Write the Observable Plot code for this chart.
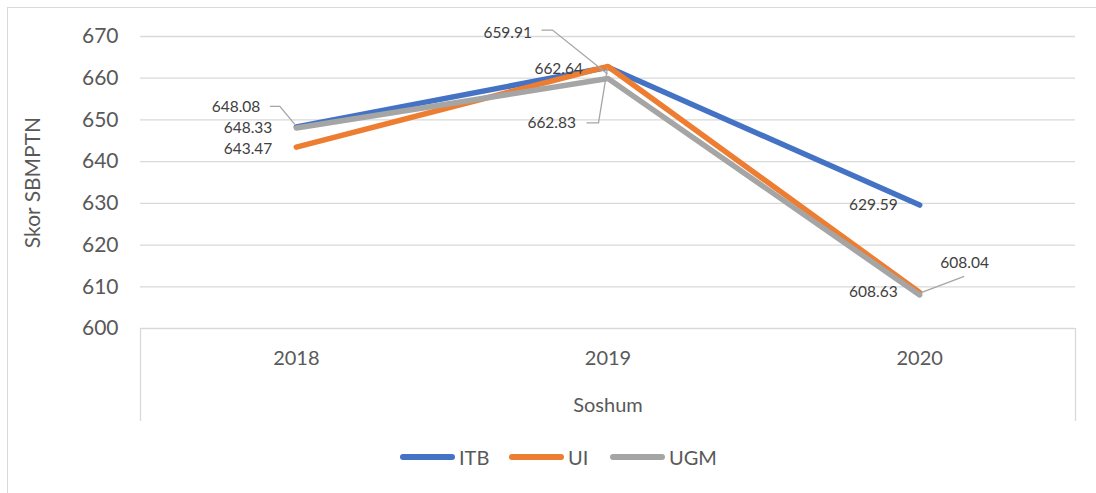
<!DOCTYPE html>
<html>
<head>
<meta charset="utf-8">
<script src="https://cdn.jsdelivr.net/npm/d3@7"></script>
<script src="https://cdn.jsdelivr.net/npm/@observablehq/plot@0.6"></script>
<style>
  html, body { margin: 0; padding: 0; background: #fff; }
  #wrap { position: relative; width: 1096px; height: 493px; overflow: hidden; font-family: Lato, "Open Sans", sans-serif; }
  #border { position: absolute; left: 7px; top: 7px; width: 1100px; height: 500px; border: 1px solid #d9d9d9; box-sizing: border-box; }
  #chart { position: absolute; left: 0; top: 0; }
  #legend { position: absolute; top: 445px; left: 0; width: 1096px; height: 24px; }
  .item { position: absolute; top: 0; height: 24px; display: flex; align-items: center; font-size: 20px; color: #595959; }
  .sw { width: 55px; height: 6px; border-radius: 3px; margin-right: 4px; }
</style>
</head>
<body>
<div id="wrap">
  <div id="border"></div>
  <div id="chart"></div>
  <div id="legend"></div>
</div>
<script>
const years = [2018, 2019, 2020];
const seriesNames = ["ITB", "UI", "UGM"];
const itb = [648.33, 662.64, 629.59];
const ui = [643.47, 662.83, 608.63];
const ugm = [648.08, 659.91, 608.04];
const yTicks = [600, 610, 620, 630, 640, 650, 660, 670];
const xTitle = "Soshum";
const yTitle = "Skor SBMPTN";
const colors = { ITB: "#4472C4", UI: "#ED7D31", UGM: "#A5A5A5" };

const valuesBySeries = { ITB: itb, UI: ui, UGM: ugm };
const rows = seriesNames.flatMap(s => years.map((yr, i) => ({ series: s, year: yr, value: valuesBySeries[s][i], idx: i })));

// label placement per point: [dx, dy, anchor, leader path offsets]
const labelPlacement = {
  ITB: [[-24, 1, "end", null], [-25, 2, "end", null], [-22, 0, "end", null]],
  UI: [[-24, 2, "end", null], [-32, 57, "end", [[-21, 57], [-9, 57], [0, 2]]], [-22, 0, "end", null]],
  UGM: [[-36, -21, "end", [[-26, -21], [-16, -21], [-1, -3]]], [-76, -46, "end", [[-66, -48], [-55, -48], [0, -4]]], [45, -32, "middle", [[0, -1], [45, -18]]]]
};

// custom leader-line mark using scales
function leaders(data) {
  return (index, scales) => {
    const g = d3.create("svg:g");
    for (const d of data) {
      const p = labelPlacement[d.series][d.idx][3];
      if (!p) continue;
      const px = scales.x(d.year), py = scales.y(d.value);
      g.append("path")
        .attr("d", d3.line()(p.map(([ox, oy]) => [px + ox, py + oy])))
        .attr("fill", "none")
        .attr("stroke", "#A5A5A5")
        .attr("stroke-width", 1.3);
    }
    return g.node();
  };
}

const labelMarks = rows.map(d => {
  const [dx, dy, anchor] = labelPlacement[d.series][d.idx];
  return Plot.text([d], {x: "year", y: "value", text: d => d.value.toFixed(2), dx, dy, textAnchor: anchor, fontSize: 15.5, fill: "#404040"});
});

const chart = Plot.plot({
  width: 1096,
  height: 493,
  marginLeft: 140,
  marginRight: 21,
  marginTop: 36,
  marginBottom: 165,
  style: { fontFamily: "Lato, 'Open Sans', sans-serif", background: "transparent", overflow: "visible" },
  x: { domain: [2017.5, 2020.5] },
  y: { domain: [600, 670] },
  marks: [
    Plot.gridY(yTicks, { stroke: "#d9d9d9", strokeOpacity: 1, strokeWidth: 1.3 }),
    Plot.ruleX([2017.5, 2020.5], { y1: 600, y2: 577.7, stroke: "#d9d9d9", strokeWidth: 1.3 }),
    Plot.axisY(yTicks, { tickSize: 0, tickPadding: 22, fontSize: 21, fill: "#595959", label: null }),
    Plot.axisX(years, { tickSize: 0, tickPadding: 22, fontSize: 20, fill: "#595959", label: null, tickFormat: d => String(d) }),
    Plot.text([xTitle], { x: 2019, y: 600, dy: 77, fontSize: 20, fill: "#595959" }),
    Plot.text([yTitle], { frameAnchor: "left", dx: -107, rotate: -90, textAnchor: "middle", fontSize: 21, fill: "#595959" }),
    ...seriesNames.map(s => Plot.line(rows.filter(r => r.series === s), { x: "year", y: "value", stroke: colors[s], strokeWidth: 5.5, strokeLinecap: "round", strokeLinejoin: "round" })),
    leaders(rows),
    ...labelMarks
  ]
});
document.getElementById("chart").appendChild(chart);

const legendPos = { ITB: 400, UI: 509, UGM: 610 };
const legend = document.getElementById("legend");
for (const s of seriesNames) {
  const it = document.createElement("div");
  it.className = "item";
  it.style.left = legendPos[s] + "px";
  const sw = document.createElement("div");
  sw.className = "sw";
  sw.style.background = colors[s];
  it.appendChild(sw);
  it.appendChild(document.createTextNode(s));
  legend.appendChild(it);
}
</script>
</body>
</html>
